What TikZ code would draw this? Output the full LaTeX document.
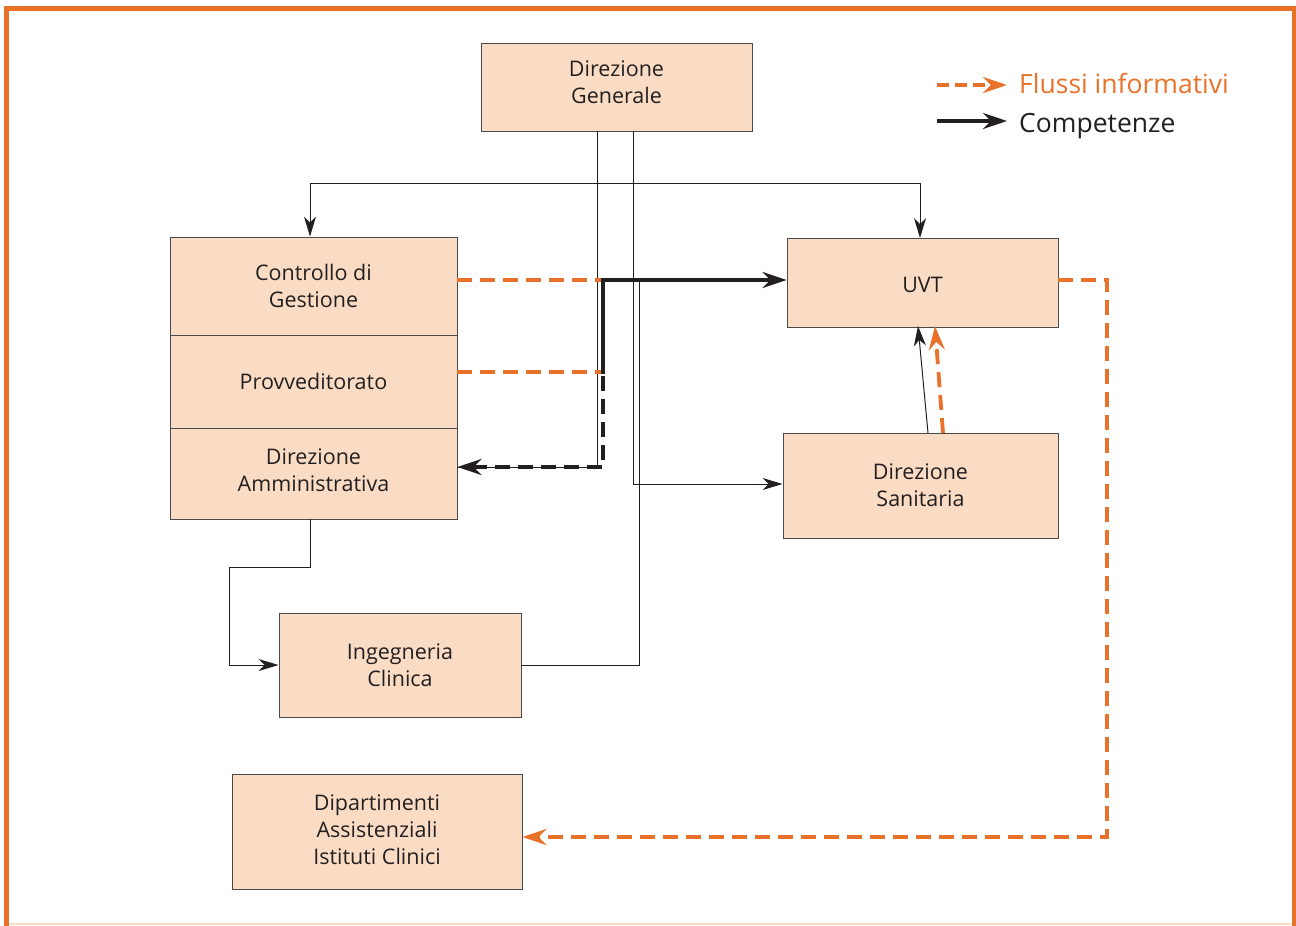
\documentclass[tikz,border=0pt]{standalone}
\usepackage{fontspec}
\setmainfont{Open Sans}
\usetikzlibrary{arrows.meta}
\definecolor{peach}{HTML}{FADCC4}
\definecolor{orng}{HTML}{E9722A}
\definecolor{boxline}{HTML}{4A4A4A}
\definecolor{ink}{HTML}{231F20}
\tikzset{
  box/.style={draw=boxline, line width=0.9pt, fill=peach, inner sep=0pt, align=center, font=\fontsize{21.5}{27}\selectfont, text=ink},
  thin/.style={draw=ink, line width=1pt},
  tarrow/.style={thin, -{Stealth[length=20pt,width=12pt,inset=6pt]}},
  flow/.style={draw=orng, line width=3.8pt, dash pattern=on 15pt off 8pt},
  flowarrow/.style={flow, -{Stealth[length=24pt,width=16pt,inset=8pt]}},
  comp/.style={draw=ink, line width=3.8pt},
  compdash/.style={draw=ink, line width=3.8pt, dash pattern=on 15pt off 8pt},
}
\begin{document}
\begin{tikzpicture}[x=1pt,y=-1pt]
\useasboundingbox (0,0) rectangle (1296,926);
% frame
\draw[draw=peach, line width=2pt] (6.5,924) -- (1294,924);
\draw[draw=orng, line width=5pt] (6.5,926) -- (6.5,8.5) -- (1294,8.5) -- (1294,926);

% boxes
\node[box, minimum width=271pt, minimum height=88pt, text depth=10pt] (dg) at (616.5,87) {Direzione\\Generale};
\node[box, minimum width=287pt, minimum height=98pt] (cg) at (313.5,286) {Controllo di\\Gestione};
\node[box, minimum width=287pt, minimum height=93pt] (pv) at (313.5,381.5) {Provveditorato};
\node[box, minimum width=287pt, minimum height=91pt, text depth=6pt] (da) at (313.5,473.5) {Direzione\\Amministrativa};
\node[box, minimum width=271pt, minimum height=89pt, text height=19.5pt] (uvt) at (922.5,283) {UVT};
\node[box, minimum width=275pt, minimum height=105pt] (ds) at (920.5,485.5) {Direzione\\Sanitaria};
\node[box, minimum width=242pt, minimum height=104pt] (ic) at (400,665) {Ingegneria\\Clinica};
\node[box, minimum width=290pt, minimum height=115pt, text depth=4pt] (dip) at (377,831.5) {Dipartimenti\\Assistenziali\\Istituti Clinici};

% coordinates
\coordinate (j1) at (603,280);
\coordinate (j2) at (603,372);
\coordinate (j3) at (603,467);
\coordinate (h1) at (310,183);
\coordinate (h2) at (920,183);

% thin lines
\draw[tarrow] (h1) -- (h2) -- (uvt.north -| h2);
\draw[tarrow] (h1) -- (cg.north -| h1);
\draw[thin] (dg.south -| 597,0) -- (597,467) -- (da.east |- 0,467);
\draw[tarrow] (dg.south -| 633,0) -- (633,484) -- (ds.west |- 0,484);
\draw[thin] (ic.east |- 0,665) -- (639,665) -- (639,280);
\draw[tarrow] (da.south -| 310,0) -- (310,567) -- (229,567) -- (229,665) -- (ic.west |- 0,665);
\draw[tarrow] (928,433) -- (918,326);

% flows
\draw[flow] (cg.east |- j1) -- (j1);
\draw[flow] (pv.east |- j2) -- (j2);
\draw[flowarrow] (uvt.east |- j1) -- (1107,280) -- (1107,837) -- (dip.east |- 0,837);
\draw[flowarrow] (943,433) -- (935,326);

% competenze
\draw[comp, -{Stealth[length=24pt,width=16pt,inset=8pt]}] ([yshift=-1.9pt]j2) -- (j1) -- (uvt.west |- j1);
\draw[compdash, -{Stealth[length=24pt,width=16pt,inset=8pt]}] (603,376) -- (j3) -- (da.east |- j3);

% legend
\coordinate (l1a) at (937,85);
\coordinate (l1b) at (1007,85);
\coordinate (l2a) at (937,121);
\coordinate (l2b) at (1007,121);
\draw[flow, dash pattern=on 12pt off 6pt, -{Stealth[length=24pt,width=16pt,inset=8pt]}] (l1a) -- (l1b);
\draw[comp, -{Stealth[length=24pt,width=16pt,inset=8pt]}] (l2a) -- (l2b);
\node[anchor=west, text=orng, font=\fontsize{26.5}{30}\selectfont, inner sep=0pt] (lt1) at (1019,83) {Flussi informativi};
\node[anchor=west, text=ink, font=\fontsize{26.5}{30}\selectfont, inner sep=0pt] (lt2) at (1019,126) {Competenze};
\end{tikzpicture}
\end{document}
